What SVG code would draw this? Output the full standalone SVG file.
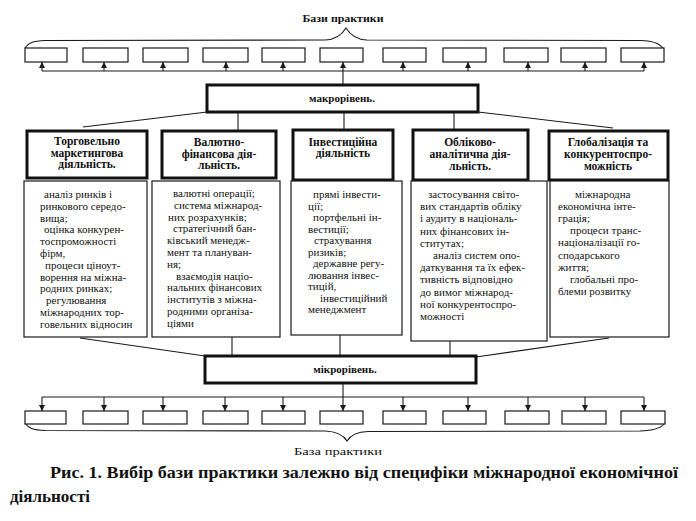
<svg xmlns="http://www.w3.org/2000/svg" width="696" height="521" viewBox="0 0 696 521">
<style>
.sb{fill:#fff;stroke:#1a1a1a;stroke-width:1.2}
.hb{fill:#fff;stroke:#111;stroke-width:3}
.cb{fill:#fff;stroke:#1a1a1a;stroke-width:1.2}
.ln{stroke:#1a1a1a;stroke-width:1.1;fill:none}
.ar{stroke:#1a1a1a;stroke-width:1.1;fill:none;marker-end:url(#ah)}
text{font-family:'Liberation Serif','Times New Roman',Times,serif;fill:#111}
.hd{font-weight:bold;font-size:11.5px;text-anchor:middle}
.tx{font-size:11px}
.lv{font-weight:bold;font-size:11px;text-anchor:middle}
.cap{font-weight:bold;font-size:17px}
</style>
<defs>
<marker id="ah" markerUnits="userSpaceOnUse" markerWidth="7" markerHeight="7" refX="6" refY="3" orient="auto">
<path d="M0,0 L6,3 L0,6 z" fill="#1a1a1a"/>
</marker>
</defs>
<rect width="696" height="521" fill="#fff"/>

<text class="lv" x="343" y="22" textLength="81" lengthAdjust="spacingAndGlyphs">Бази практики</text>

<g id="connectors">
<path class="ln" d="M25,48 C28,43 33,41 45,40.5 L325,40 C338,39.5 343,33 346,28 C349,33 354,39.5 367,40 L640,40.5 C655,41 661,44 664,50"/>
<path class="ln" d="M42,71 L644,71"/>
<path class="ar" d="M42,71 V62"/>
<path class="ar" d="M104,71 V62"/>
<path class="ar" d="M163,71 V62"/>
<path class="ar" d="M226,71 V62"/>
<path class="ar" d="M283,71 V62"/>
<path class="ar" d="M343,85 V62"/>
<path class="ar" d="M403,71 V62"/>
<path class="ar" d="M468,71 V62"/>
<path class="ar" d="M528,71 V62"/>
<path class="ar" d="M585,71 V62"/>
<path class="ar" d="M644,71 V62"/>

<path class="ln" d="M207,112 L83,127"/>
<path class="ln" d="M238,112 V131"/>
<path class="ln" d="M344,112 V130"/>
<path class="ln" d="M454,112 V130"/>
<path class="ln" d="M478,112 L613,128"/>

<path class="ln" d="M80,338 L205,356"/>
<path class="ln" d="M232,337 V356"/>
<path class="ln" d="M340,335 V356"/>
<path class="ln" d="M450,341 V356"/>
<path class="ln" d="M476,357 L609,338"/>

<path class="ln" d="M42,397 L644,397"/>
<path class="ar" d="M42,397 V411"/>
<path class="ar" d="M104,397 V411"/>
<path class="ar" d="M163,397 V411"/>
<path class="ar" d="M225,397 V411"/>
<path class="ar" d="M283,397 V411"/>
<path class="ar" d="M343,383 V411"/>
<path class="ar" d="M403,397 V411"/>
<path class="ar" d="M468,397 V411"/>
<path class="ar" d="M528,397 V411"/>
<path class="ar" d="M585,397 V411"/>
<path class="ar" d="M644,397 V411"/>

<path class="ln" d="M25,423 C28,428 33,430 45,430.5 L325,431 C338,431.5 344,436 347,441 C350,436 355,432 368,431.5 L640,431 C655,430.5 661,428 664,424"/>
</g>

<g id="top-bases">
<rect class="sb" x="25" y="48" width="42" height="14"/>
<rect class="sb" x="83" y="48" width="45" height="14"/>
<rect class="sb" x="143" y="48" width="45" height="14"/>
<rect class="sb" x="203" y="48" width="45" height="14"/>
<rect class="sb" x="262" y="48" width="43" height="14"/>
<rect class="sb" x="320" y="48" width="43" height="14"/>
<rect class="sb" x="383" y="48" width="43" height="14"/>
<rect class="sb" x="443" y="48" width="43" height="14"/>
<rect class="sb" x="504" y="48" width="44" height="14"/>
<rect class="sb" x="561" y="48" width="45" height="14"/>
<rect class="sb" x="621" y="48" width="43" height="14"/>
</g>

<g id="macro">
<rect class="hb" x="207" y="85" width="271" height="27"/>
<text class="lv" x="342" y="102">макрорівень.</text>
</g>

<g id="h1">
<rect class="hb" x="27" y="131" width="120" height="47"/>
<text class="hd" x="87" y="145">Торговельно</text>
<text class="hd" x="87" y="157">маркетингова</text>
<text class="hd" x="87" y="168">діяльність.</text>
</g>
<g id="h2">
<rect class="hb" x="162" y="131" width="114" height="47"/>
<text class="hd" x="219" y="146">Валютно-</text>
<text class="hd" x="219" y="158">фінансова дія-</text>
<text class="hd" x="219" y="169">льність.</text>
</g>
<g id="h3">
<rect class="hb" x="293" y="130" width="100" height="50"/>
<text class="hd" x="343" y="146">Інвестиційна</text>
<text class="hd" x="343" y="157">діяльність</text>
</g>
<g id="h4">
<rect class="hb" x="413" y="130" width="115" height="50"/>
<text class="hd" x="470" y="146">Обліково-</text>
<text class="hd" x="470" y="158">аналітична дія-</text>
<text class="hd" x="470" y="170">льність.</text>
</g>
<g id="h5">
<rect class="hb" x="549" y="131" width="119" height="49"/>
<text class="hd" x="608" y="146">Глобалізація та</text>
<text class="hd" x="608" y="158">конкурентоспро-</text>
<text class="hd" x="608" y="170">можність</text>
</g>

<g id="c1">
<rect class="cb" x="24" y="181" width="123" height="156"/>
<text class="tx" x="44" y="198">аналіз ринків і</text>
<text class="tx" x="40" y="209.8">ринкового середо-</text>
<text class="tx" x="40" y="221.6">вища;</text>
<text class="tx" x="44" y="233.4">оцінка конкурен-</text>
<text class="tx" x="40" y="245.2">тоспроможності</text>
<text class="tx" x="40" y="257">фірм,</text>
<text class="tx" x="45" y="268.8">процеси ціноут-</text>
<text class="tx" x="40" y="280.6">ворення на міжна-</text>
<text class="tx" x="40" y="292.4">родних ринках;</text>
<text class="tx" x="46" y="304.2">регулювання</text>
<text class="tx" x="40" y="316">міжнародних тор-</text>
<text class="tx" x="40" y="327.8">говельних відносин</text>
</g>
<g id="c2">
<rect class="cb" x="152" y="181" width="128" height="156"/>
<text class="tx" x="173" y="197">валютні операції;</text>
<text class="tx" x="174" y="208.8">система міжнарод-</text>
<text class="tx" x="168" y="220.6">них розрахунків;</text>
<text class="tx" x="173" y="232.4">стратегічний бан-</text>
<text class="tx" x="167" y="244.2">ківський менедж-</text>
<text class="tx" x="167" y="256">мент та плануван-</text>
<text class="tx" x="167" y="267.8">ня;</text>
<text class="tx" x="176" y="279.6">взаємодія націо-</text>
<text class="tx" x="167" y="291.4">нальних фінансових</text>
<text class="tx" x="167" y="303.2">інститутів з міжна-</text>
<text class="tx" x="167" y="315">родними організа-</text>
<text class="tx" x="167" y="326.8">ціями</text>
</g>
<g id="c3">
<rect class="cb" x="291" y="181" width="111" height="154"/>
<text class="tx" x="313" y="198">прямі інвести-</text>
<text class="tx" x="308" y="209.5">ції;</text>
<text class="tx" x="313" y="221">портфельні ін-</text>
<text class="tx" x="308" y="232.5">вестиції;</text>
<text class="tx" x="314" y="244">страхування</text>
<text class="tx" x="308" y="255.5">ризиків;</text>
<text class="tx" x="313" y="267">державне регу-</text>
<text class="tx" x="308" y="278.5">лювання інвес-</text>
<text class="tx" x="308" y="290">тицій,</text>
<text class="tx" x="320" y="301.5">інвестиційний</text>
<text class="tx" x="308" y="313">менеджмент</text>
</g>
<g id="c4">
<rect class="cb" x="411" y="181" width="136" height="160"/>
<text class="tx" x="428" y="198">застосування світо-</text>
<text class="tx" x="420" y="210.2">вих стандартів обліку</text>
<text class="tx" x="420" y="222.4">і аудиту в національ-</text>
<text class="tx" x="420" y="234.6">них фінансових ін-</text>
<text class="tx" x="420" y="246.8">ститутах;</text>
<text class="tx" x="433" y="259">аналіз систем опо-</text>
<text class="tx" x="420" y="271.2">даткування та їх ефек-</text>
<text class="tx" x="420" y="283.4">тивність відповідно</text>
<text class="tx" x="420" y="295.6">до вимог міжнарод-</text>
<text class="tx" x="420" y="307.8">ної конкурентоспро-</text>
<text class="tx" x="420" y="320">можності</text>
</g>
<g id="c5">
<rect class="cb" x="550" y="181" width="119" height="156"/>
<text class="tx" x="575" y="198">міжнародна</text>
<text class="tx" x="558" y="210.1">економічна інте-</text>
<text class="tx" x="558" y="222.2">грація;</text>
<text class="tx" x="570" y="234.3">процеси транс-</text>
<text class="tx" x="558" y="246.4">націоналізації го-</text>
<text class="tx" x="558" y="258.5">сподарського</text>
<text class="tx" x="558" y="270.6">життя;</text>
<text class="tx" x="570" y="282.7">глобальні про-</text>
<text class="tx" x="558" y="294.8">блеми розвитку</text>
</g>

<g id="micro">
<rect class="hb" x="205" y="356" width="271" height="27"/>
<text class="lv" x="345" y="373">мікрорівень.</text>
</g>

<g id="bottom-bases">
<rect class="sb" x="25" y="411" width="41" height="13"/>
<rect class="sb" x="83" y="411" width="45" height="13"/>
<rect class="sb" x="143" y="411" width="44" height="13"/>
<rect class="sb" x="203" y="411" width="45" height="13"/>
<rect class="sb" x="262" y="411" width="43" height="13"/>
<rect class="sb" x="320" y="411" width="43" height="13"/>
<rect class="sb" x="383" y="411" width="43" height="13"/>
<rect class="sb" x="443" y="411" width="43" height="13"/>
<rect class="sb" x="505" y="411" width="44" height="13"/>
<rect class="sb" x="562" y="411" width="44" height="13"/>
<rect class="sb" x="621" y="411" width="44" height="13"/>
</g>

<text class="tx" x="338" y="455" text-anchor="middle" font-size="9" textLength="88" lengthAdjust="spacingAndGlyphs">База практики</text>

<text class="cap" x="50" y="478" textLength="628" lengthAdjust="spacingAndGlyphs">Рис. 1. Вибір бази практики залежно від специфіки міжнародної економічної</text>
<text class="cap" x="10" y="502">діяльності</text>
</svg>
